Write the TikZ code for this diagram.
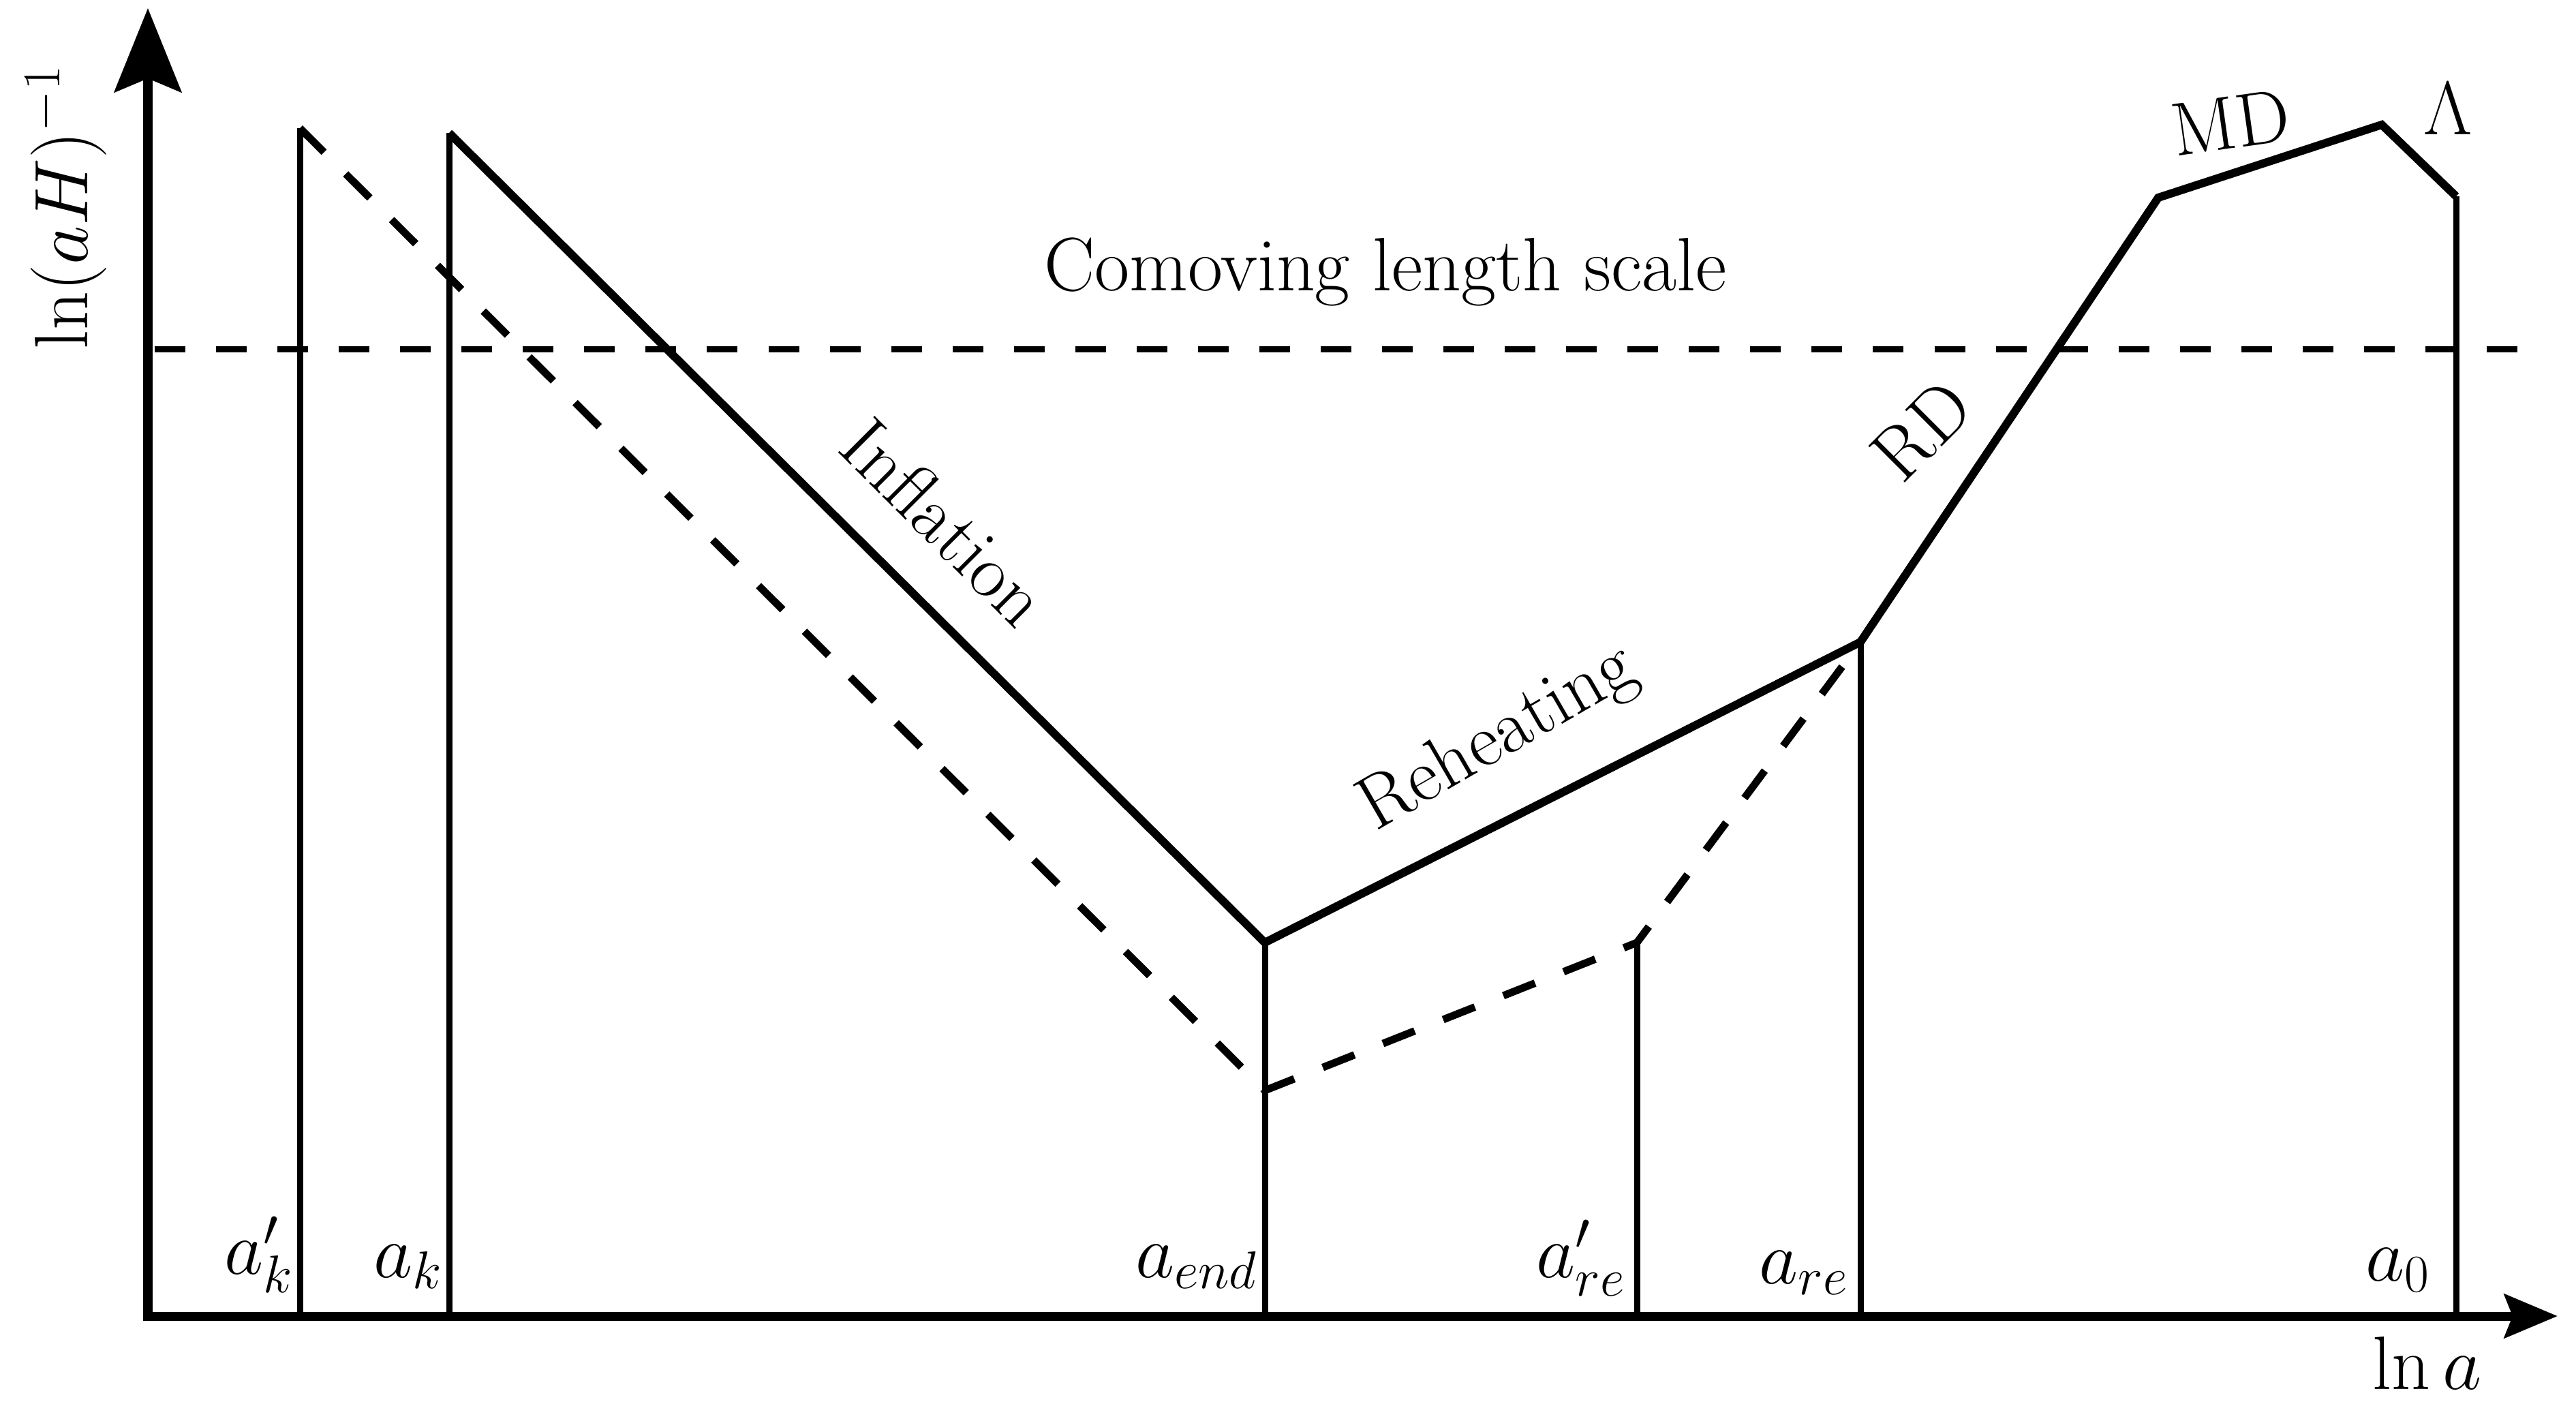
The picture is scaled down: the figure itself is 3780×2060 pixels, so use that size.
\RequirePackage{fix-cm}
\documentclass[tikz,border=0pt]{standalone}
\usetikzlibrary{arrows.meta}
\begin{document}
\begin{tikzpicture}[x=0.01cm,y=-0.01cm,
  every node/.style={inner sep=0pt, font=\fontsize{31.6}{38}\selectfont},
  axis/.style={line width=0.13cm, line join=miter},
  curve/.style={line width=0.12cm, line join=miter},
  dcurve/.style={line width=0.11cm, dash pattern=on 0.5cm off 0.45cm, line join=miter},
  hdash/.style={line width=0.09cm, dash pattern=on 0.45cm off 0.45cm},
  vline/.style={line width=0.09cm},
  lbl/.style={anchor=base east}]
\useasboundingbox (0,0) rectangle (3780,2060);
% axes
\coordinate (O) at (217,1931);
\coordinate (Xend) at (3753,1931);
\coordinate (Yend) at (217,12);
\draw[axis, {Stealth[length=0.78cm,width=0.64cm,inset=0.12cm]}-{Stealth[length=1.23cm,width=0.98cm,inset=0.2cm]}] (Xend) -- (O) -- (Yend);
% key points
\coordinate (kp) at (440,188);
\coordinate (k) at (659,195);
\coordinate (end) at (1856,1383);
\coordinate (endd) at (1856,1600);
\coordinate (rep) at (2402,1383);
\coordinate (re) at (2730,942);
\coordinate (rd) at (3167,290);
\coordinate (md) at (3495,183);
\coordinate (lam) at (3604,288);
\coordinate (kpB) at (440,1931);
\coordinate (kB) at (659,1931);
\coordinate (endB) at (1856,1931);
\coordinate (repB) at (2402,1931);
\coordinate (reB) at (2730,1931);
\coordinate (zB) at (3604,1931);
\coordinate (hl) at (227,512);
\coordinate (hr) at (3732,512);
% vertical lines
\draw[vline] (kpB) -- (kp);
\draw[vline] (kB) -- (k);
\draw[vline] (endB) -- (end);
\draw[vline] (repB) -- (rep);
\draw[vline] (reB) -- (re);
\draw[vline] (zB) -- (lam);
% curves
\draw[hdash] (hl) -- (hr);
\draw[dcurve] (kp) -- (endd) -- (rep) -- (re);
\draw[curve] (k) -- (end) -- (re) -- (rd) -- (md) -- (lam);
% labels
\node[rotate=90, anchor=base west] (ylab) at (128,513) {$\ln(aH)^{-1}$};
\node[anchor=base] (xlab) at (3562,2038) {$\ln a$};
\node[anchor=base] (como) at (2033,426) {Comoving length scale};
\node[rotate=-45] (infl) at (1386,766) {Inflation};
\node[rotate=30] (reh) at (2199,1085) {Reheating};
\node[rotate=45] (rdl) at (2820,632) {RD};
\node[rotate=8] (mdl) at (3273,180) {MD};
\node (laml) at (3592,160) {$\Lambda$};
\node[lbl] (l1) at (431,1869) {$a'_k$};
\node[lbl] (l2) at (650,1874) {$a_k$};
\node[lbl] (l3) at (1846,1874) {$a_{end}$};
\node[lbl] (l4) at (2386,1874) {$a'_{re}$};
\node[lbl] (l5) at (2713,1883) {$a_{re}$};
\node[lbl] (l6) at (3567,1879) {$a_0$};
\end{tikzpicture}
\end{document}
